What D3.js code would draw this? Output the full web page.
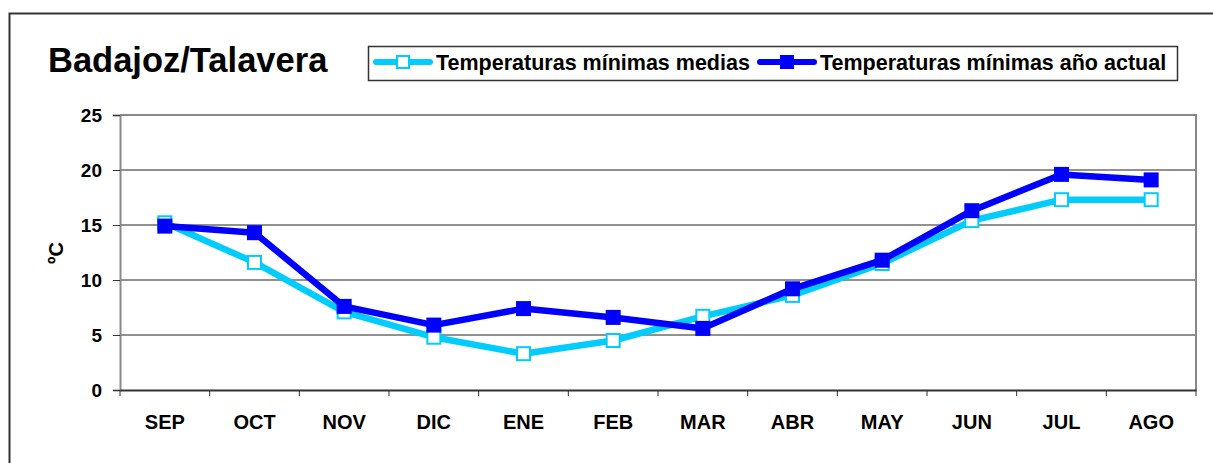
<!DOCTYPE html>
<html>
<head>
<meta charset="utf-8">
<script src="https://cdn.jsdelivr.net/npm/d3@7"></script>
<style>
  body { margin: 0; background: #fff; }
  text { font-family: "Liberation Sans", Arial, sans-serif; font-weight: bold; fill: #000; }
</style>
</head>
<body>
<svg width="1213" height="463"></svg>
<script>
const months = ["SEP", "OCT", "NOV", "DIC", "ENE", "FEB", "MAR", "ABR", "MAY", "JUN", "JUL", "AGO"];
const medias = [15.2, 11.6, 7.1, 4.8, 3.3, 4.5, 6.7, 8.6, 11.5, 15.4, 17.3, 17.3];
const actual = [14.9, 14.3, 7.6, 5.9, 7.4, 6.6, 5.6, 9.2, 11.8, 16.3, 19.6, 19.1];
const yTicks = [0, 5, 10, 15, 20, 25];

const svg = d3.select("svg");
const plot = {left: 120, right: 1196, top: 115, bottom: 390};

// outer chart frame (runs off the right and bottom edges)
svg.append("rect")
    .attr("x", 9.5).attr("y", 13.5)
    .attr("width", 1300).attr("height", 500)
    .attr("fill", "none").attr("stroke", "#333").attr("stroke-width", 2);

svg.append("text")
    .attr("x", 48).attr("y", 72)
    .style("font-size", "34.5px")
    .text("Badajoz/Talavera");

const x = d3.scaleBand().domain(months).range([plot.left, plot.right]);
const y = d3.scaleLinear().domain([0, 25]).range([plot.bottom, plot.top]);

// grid lines
svg.append("g").selectAll("line")
    .data(yTicks.filter(d => d > 0 && d < 25)).join("line")
    .attr("x1", plot.left).attr("x2", plot.right)
    .attr("y1", d => y(d)).attr("y2", d => y(d))
    .attr("stroke", "#222").attr("stroke-width", 1);

// plot area border top / right
svg.append("path")
    .attr("d", `M${plot.left},${plot.top}H${plot.right}V${plot.bottom}`)
    .attr("fill", "none").attr("stroke", "#888").attr("stroke-width", 2);

const yAxis = svg.append("g")
    .attr("transform", `translate(${plot.left},0)`)
    .call(d3.axisLeft(y).tickValues(yTicks).tickSize(7).tickPadding(11));
yAxis.select(".domain").attr("stroke", "#888").attr("stroke-width", 2);
yAxis.selectAll(".tick line").attr("stroke", "#333");
yAxis.selectAll("text").style("font-size", "19px");

const xAxis = svg.append("g")
    .attr("transform", `translate(0,${plot.bottom})`)
    .call(d3.axisBottom(x).tickSize(0).tickPadding(25));
xAxis.select(".domain").attr("stroke", "#333").attr("stroke-width", 2);
xAxis.selectAll("text").style("font-size", "20px");

// category boundary ticks
svg.append("g").selectAll("line")
    .data(d3.range(months.length + 1)).join("line")
    .attr("x1", i => plot.left + i * x.step()).attr("x2", i => plot.left + i * x.step())
    .attr("y1", plot.bottom).attr("y2", plot.bottom + 6)
    .attr("stroke", "#333");

svg.append("text")
    .attr("transform", "translate(63,253) rotate(-90)")
    .attr("text-anchor", "middle")
    .style("font-size", "20px")
    .text("ºC");

const line = d3.line()
    .x((d, i) => x(months[i]) + x.bandwidth() / 2)
    .y(d => y(d));

const series = [
    {name: "Temperaturas mínimas medias", values: medias, color: "#00ccff", fill: "#fff"},
    {name: "Temperaturas mínimas año actual", values: actual, color: "#0000ff", fill: "#0000ff"}
];

series.forEach(s => {
    svg.append("path")
        .attr("d", line(s.values))
        .attr("fill", "none")
        .attr("stroke", s.color)
        .attr("stroke-width", 6.5)
        .attr("stroke-linejoin", "round");
    svg.append("g").selectAll("rect")
        .data(s.values).join("rect")
        .attr("x", (d, i) => x(months[i]) + x.bandwidth() / 2 - 6.5)
        .attr("y", d => y(d) - 6.5)
        .attr("width", 13).attr("height", 13)
        .attr("fill", s.fill)
        .attr("stroke", s.color).attr("stroke-width", 2);
});

// legend
const legend = svg.append("g");
legend.append("rect")
    .attr("x", 368.5).attr("y", 46.5)
    .attr("width", 809).attr("height", 34)
    .attr("fill", "#fff").attr("stroke", "#333").attr("stroke-width", 1.5);

const legendX = [373, 757];
series.forEach((s, i) => {
    const g = legend.append("g").attr("transform", `translate(${legendX[i]},62)`);
    g.append("line")
        .attr("x1", 3).attr("x2", 57)
        .attr("stroke", s.color).attr("stroke-width", 6).attr("stroke-linecap", "round");
    g.append("rect")
        .attr("x", 24).attr("y", -6).attr("width", 12).attr("height", 12)
        .attr("fill", s.fill).attr("stroke", s.color).attr("stroke-width", 2);
    g.append("text")
        .attr("x", 63).attr("y", 8)
        .style("font-size", "21.5px")
        .text(s.name);
});
</script>
</body>
</html>
